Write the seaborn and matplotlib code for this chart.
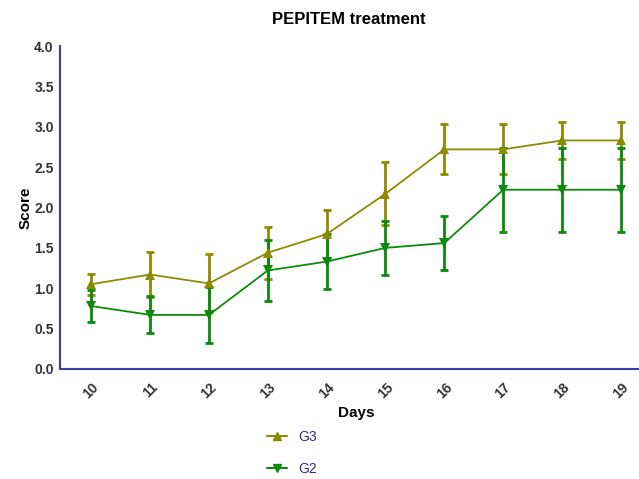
import pandas as pd
import matplotlib
matplotlib.use("Agg")
import matplotlib.pyplot as plt
import seaborn as sns

# Values
days = [10, 11, 12, 13, 14, 15, 16, 17, 18, 19]
g3_mean = [1.05, 1.17, 1.06, 1.44, 1.67, 2.17, 2.72, 2.72, 2.83, 2.83]
g3_sem = [0.13, 0.28, 0.36, 0.32, 0.30, 0.39, 0.31, 0.31, 0.23, 0.23]
g2_mean = [0.78, 0.67, 0.67, 1.22, 1.33, 1.50, 1.56, 2.22, 2.22, 2.22]
g2_sem = [0.20, 0.23, 0.35, 0.38, 0.34, 0.33, 0.33, 0.52, 0.52, 0.52]
groups = ["G3", "G2"]

colors = {"G3": "#8c8c00", "G2": "#0b8a0b"}
markers = {"G3": "^", "G2": "v"}
axis_color = "#3a3f9a"

df = pd.DataFrame({
    "Days": days * 2,
    "Score": g3_mean + g2_mean,
    "sem": g3_sem + g2_sem,
    "group": ["G3"] * len(days) + ["G2"] * len(days),
})

sns.set_style("white")
plt.rcParams["font.family"] = ["Liberation Sans", "DejaVu Sans"]

fig = plt.figure(figsize=(6.39, 4.79), dpi=100)
ax = fig.add_axes([60 / 639, 1 - 369 / 479, 578 / 639, 323 / 479])

for g in groups:
    sub = df[df["group"] == g]
    ax.errorbar(sub["Days"], sub["Score"], yerr=sub["sem"], fmt="none",
                ecolor=colors[g], elinewidth=2.0, capsize=3, capthick=2.0, zorder=2)

sns.lineplot(data=df, x="Days", y="Score", hue="group", style="group",
             hue_order=groups, palette=colors, markers=markers, dashes=False,
             markersize=7, markeredgewidth=0, linewidth=1.3, ax=ax,
             legend=False, zorder=3)

ax.set_xlim(9.47, 19.29)
ax.set_ylim(0, 4.0)
ax.set_xticks(days)
ax.set_yticks([0, 0.5, 1.0, 1.5, 2.0, 2.5, 3.0, 3.5, 4.0])
ax.set_yticklabels([f"{v:.1f}" for v in ax.get_yticks()])

for side in ["top", "right"]:
    ax.spines[side].set_visible(False)
for side in ["left", "bottom"]:
    ax.spines[side].set_color(axis_color)
    ax.spines[side].set_linewidth(1.5)

ax.tick_params(axis="both", colors=axis_color, length=4, width=1.5,
               labelcolor="#333333", labelsize=10)
ax.tick_params(axis="y", pad=0.5)
ax.tick_params(axis="x", pad=4)
plt.setp(ax.get_xticklabels(), rotation=45, fontweight="bold", ha="center")
plt.setp(ax.get_yticklabels(), fontweight="bold")

ax.set_xlabel("Days", fontsize=11, fontweight="bold", color="black")
ax.xaxis.set_label_coords((356 - 60) / 578, -(413 - 369) / 323)
ax.xaxis.label.set_verticalalignment("center")
ax.set_ylabel("Score", fontsize=11, fontweight="bold", color="black", labelpad=1)
ax.set_title("PEPITEM treatment", fontsize=12, fontweight="bold", color="black", pad=16)

handles = [plt.Line2D([], [], color=colors[g], marker=markers[g], markersize=6,
                      linewidth=1.5) for g in groups]
leg = fig.legend(handles, groups, loc="center", bbox_to_anchor=(292 / 639, 1 - 453 / 479),
                 frameon=False, labelspacing=1.3, handlelength=1.5, fontsize=10)
for t in leg.get_texts():
    t.set_color("#2a2aa0")

fig.savefig("out.png", dpi=100)
